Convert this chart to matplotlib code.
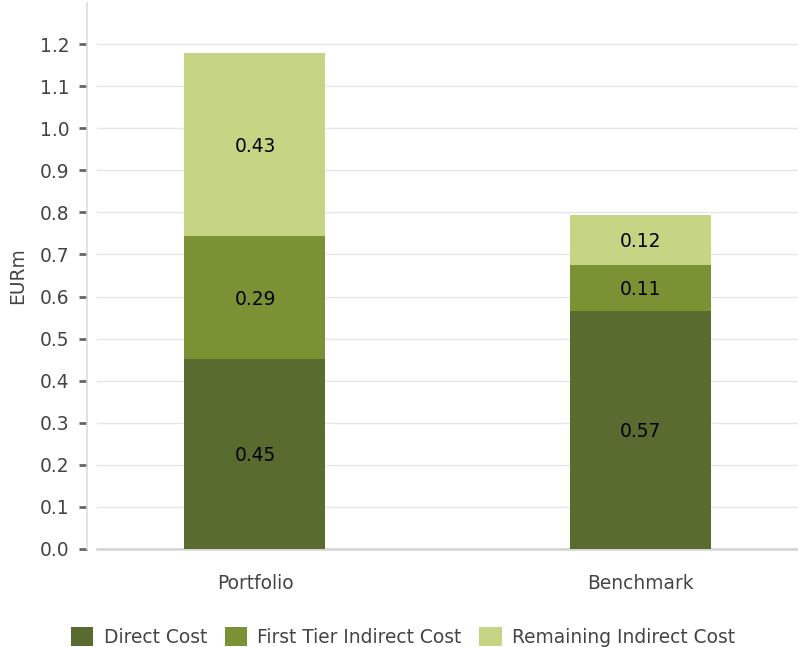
import matplotlib.pyplot as plt
import numpy as np

# cost breakdown in EURm
categories = ["Portfolio", "Benchmark"]
direct_cost = [0.452, 0.566]
first_tier_indirect = [0.292, 0.109]
remaining_indirect = [0.435, 0.119]
series_names = ["Direct Cost", "First Tier Indirect Cost", "Remaining Indirect Cost"]
colors = ["#5a6b2f", "#7a9234", "#c6d584"]

fs = 13.4
plt.rcParams['font.family'] = 'DejaVu Sans'
fig = plt.figure(figsize=(7.98, 6.47), dpi=100)
ax = fig.add_axes([0.1216, 0.1515, 0.8784, 0.8435])

x = np.arange(len(categories))
bottom = np.zeros(len(categories))
for name, vals, col in zip(series_names, [direct_cost, first_tier_indirect, remaining_indirect], colors):
    vals = np.array(vals)
    ax.bar(x, vals, width=0.366, bottom=bottom, color=col, label=name, zorder=3)
    for xi, b, v in zip(x, bottom, vals):
        ax.text(xi, b + v / 2, f"{v:.2f}", ha='center', va='center_baseline', fontsize=fs, color='black', zorder=4)
    bottom += vals

ax.set_xlim(-0.41, 1.41)
ax.set_ylim(0, 1.297)
ticks = np.arange(0, 1.21, 0.1)
ax.set_yticks(ticks)
ax.set_yticklabels([f"{t:.1f}" for t in ticks])
ax.set_xticks(x)
ax.set_xticklabels(categories)
ax.yaxis.grid(True, color='#e6e6e6', linewidth=1, zorder=0)
ax.set_axisbelow(True)

for s in ['top', 'right']:
    ax.spines[s].set_visible(False)
ax.spines['left'].set_position(('outward', 7))
ax.spines['left'].set_color('#dddddd')
ax.spines['left'].set_linewidth(1.2)
ax.spines['bottom'].set_color('#d4d4d4')
ax.spines['bottom'].set_linewidth(1.8)

ax.tick_params(axis='y', length=6, width=2, color='#666666', labelcolor='#444444', labelsize=fs, pad=7)
ax.tick_params(axis='x', length=0, labelcolor='#444444', labelsize=fs, pad=18)
ax.set_ylabel("EURm", fontsize=fs, color='#444444', labelpad=9)

fig.legend(loc='lower center', bbox_to_anchor=(0.505, -0.02), ncol=3, frameon=False, fontsize=fs,
           handlelength=1.2, handleheight=1.2, handletextpad=0.55, columnspacing=0.95,
           borderpad=0.2, labelcolor='#444444')

fig.savefig("out.png", dpi=100)
